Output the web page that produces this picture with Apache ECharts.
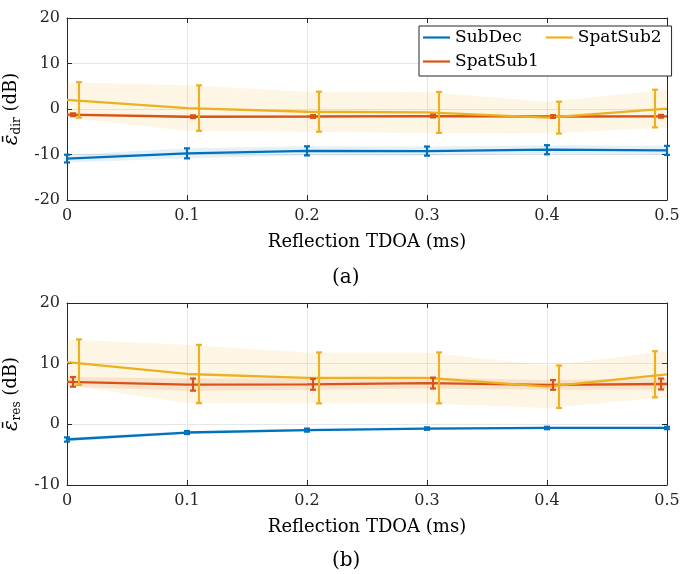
<!DOCTYPE html>
<html>
<head>
<meta charset="utf-8">
<script src="https://cdn.jsdelivr.net/npm/echarts@6/dist/echarts.min.js"></script>
<style>
html,body{margin:0;padding:0;background:#fff;}
#chart{width:694px;height:574px;}
</style>
</head>
<body>
<div id="chart"></div>
<script>
// ---- data ----
var tdoa = [0, 0.1, 0.2, 0.3, 0.4, 0.5];
var xTicks = ['0', '0.1', '0.2', '0.3', '0.4', '0.5'];
var seriesNames = ['SubDec', 'SpatSub1', 'SpatSub2'];
// error-bar x positions (slightly shifted per method)
var errXSubDec = [0, 0.1, 0.2, 0.3, 0.4, 0.5];
var errXSpatSub1 = [0.005, 0.105, 0.205, 0.305, 0.405, 0.495];
var errXSpatSub2 = [0.01, 0.11, 0.21, 0.31, 0.41, 0.49];

// (a) direct-path error
var subDecDir = [-10.9, -9.75, -9.2, -9.25, -8.95, -9.1];
var subDecDirStd = [0.85, 1.1, 1.0, 1.0, 1.0, 1.0];
var spatSub1Dir = [-1.25, -1.7, -1.65, -1.55, -1.65, -1.6];
var spatSub1DirStd = [0.3, 0.3, 0.3, 0.3, 0.3, 0.3];
var spatSub2Dir = [2.0, 0.2, -0.6, -0.75, -1.9, 0.1];
var spatSub2DirStd = [3.9, 5.0, 4.4, 4.5, 3.5, 4.15];

// (b) residual error
var subDecRes = [-2.5, -1.35, -0.95, -0.7, -0.6, -0.6];
var subDecResStd = [0.35, 0.25, 0.25, 0.2, 0.2, 0.2];
var spatSub1Res = [7.0, 6.55, 6.6, 6.8, 6.5, 6.65];
var spatSub1ResStd = [0.8, 1.0, 0.9, 0.9, 0.8, 0.9];
var spatSub2Res = [10.25, 8.3, 7.65, 7.65, 6.2, 8.25];
var spatSub2ResStd = [3.75, 4.8, 4.2, 4.2, 3.5, 3.8];

// ---- styles ----
var FONT = 'DejaVu Serif';
var AX = '#262626';
var GRIDC = '#e6e6e6';
var C = {SubDec: '#0072BD', SpatSub1: '#D95319', SpatSub2: '#EDB120'};

var chart = echarts.init(document.getElementById('chart'), null, {renderer: 'canvas'});

function bandSeries(ax, xs, mean, std, color, op) {
  return {
    type: 'custom', xAxisIndex: ax * 2, yAxisIndex: ax * 2, silent: true, z: 1,
    data: [[xs[0], mean[0]]],
    renderItem: function (p, api) {
      var pts = [];
      for (var i = 0; i < xs.length; i++) pts.push(api.coord([xs[i], mean[i] + std[i]]));
      for (var j = xs.length - 1; j >= 0; j--) pts.push(api.coord([xs[j], mean[j] - std[j]]));
      return {type: 'polygon', shape: {points: pts}, style: {fill: color, opacity: op}};
    }
  };
}
function lineSeries(ax, name, mean) {
  return {
    type: 'line', name: name, xAxisIndex: ax * 2, yAxisIndex: ax * 2, z: 3,
    data: tdoa.map(function (x, i) { return [x, mean[i]]; }),
    symbol: 'none', lineStyle: {width: 2.3, color: C[name]}, itemStyle: {color: C[name]},
    animation: false
  };
}
function errSeries(ax, name, xs, mean, std) {
  var col = C[name];
  return {
    type: 'custom', xAxisIndex: ax * 2, yAxisIndex: ax * 2, silent: true, z: 4,
    data: xs.map(function (x, i) { return [x, mean[i] - std[i], mean[i] + std[i]]; }),
    encode: {x: 0, y: [1, 2]},
    renderItem: function (p, api) {
      var x = api.value(0);
      var lo = api.coord([x, api.value(1)]);
      var hi = api.coord([x, api.value(2)]);
      var w = 3;
      var st = {stroke: col, lineWidth: 2.2};
      return {type: 'group', children: [
        {type: 'line', shape: {x1: lo[0], y1: lo[1], x2: hi[0], y2: hi[1]}, style: st},
        {type: 'line', shape: {x1: lo[0] - w, y1: lo[1], x2: lo[0] + w, y2: lo[1]}, style: st},
        {type: 'line', shape: {x1: hi[0] - w, y1: hi[1], x2: hi[0] + w, y2: hi[1]}, style: st}
      ]};
    }
  };
}

function xAxes(gi) {
  return [{
    type: 'value', gridIndex: gi, min: 0, max: 0.5, interval: 0.1, position: 'bottom',
    axisLine: {show: true, onZero: false, lineStyle: {color: AX, width: 1}},
    axisTick: {show: true, inside: true, length: 5, lineStyle: {color: AX}},
    axisLabel: {fontFamily: FONT, fontSize: 16, color: AX, margin: 8,
      formatter: function (v) { var k = Math.round(v * 10); return xTicks[k] !== undefined ? xTicks[k] : ''; }},
    splitLine: {show: true, lineStyle: {color: GRIDC, width: 1}},
    name: 'Reflection TDOA (ms)', nameLocation: 'middle', nameGap: 33,
    nameTextStyle: {fontFamily: FONT, fontSize: 18, color: '#000'}
  }, {
    type: 'value', gridIndex: gi, min: 0, max: 0.5, interval: 0.1, position: 'top',
    axisLine: {show: true, onZero: false, lineStyle: {color: AX, width: 1}},
    axisTick: {show: true, inside: true, length: 5, lineStyle: {color: AX}},
    axisLabel: {show: false}, splitLine: {show: false}
  }];
}
function yAxes(gi, min, max, sub) {
  return [{
    type: 'value', gridIndex: gi, min: min, max: max, interval: 10, position: 'left',
    axisLine: {show: true, onZero: false, lineStyle: {color: AX, width: 1}},
    axisTick: {show: true, inside: true, length: 5, lineStyle: {color: AX}},
    axisLabel: {fontFamily: FONT, fontSize: 16, color: AX, margin: 7},
    splitLine: {show: true, lineStyle: {color: GRIDC, width: 1}},
    name: '{e|ε̄}{s|' + sub + '} {n|(dB)}', nameLocation: 'middle', nameGap: 36,
    nameTextStyle: {fontFamily: FONT, fontSize: 18, color: '#000',
      rich: {
        e: {fontFamily: FONT, fontSize: 20, fontStyle: 'italic', color: '#000', lineHeight: 24},
        s: {fontFamily: FONT, fontSize: 12, color: '#000', verticalAlign: 'bottom', padding: [8, 0, 0, 0], lineHeight: 14},
        n: {fontFamily: FONT, fontSize: 18, color: '#000', lineHeight: 24}
      }}
  }, {
    type: 'value', gridIndex: gi, min: min, max: max, interval: 10, position: 'right',
    axisLine: {show: true, onZero: false, lineStyle: {color: AX, width: 1}},
    axisTick: {show: true, inside: true, length: 5, lineStyle: {color: AX}},
    axisLabel: {show: false}, splitLine: {show: false}
  }];
}

var series = [
  bandSeries(0, tdoa, spatSub2Dir, spatSub2DirStd, C.SpatSub2, 0.12),
  bandSeries(0, tdoa, spatSub1Dir, spatSub1DirStd, C.SpatSub1, 0.12),
  bandSeries(0, tdoa, subDecDir, subDecDirStd, C.SubDec, 0.1),
  lineSeries(0, 'SubDec', subDecDir),
  lineSeries(0, 'SpatSub1', spatSub1Dir),
  lineSeries(0, 'SpatSub2', spatSub2Dir),
  errSeries(0, 'SubDec', errXSubDec, subDecDir, subDecDirStd),
  errSeries(0, 'SpatSub1', errXSpatSub1, spatSub1Dir, spatSub1DirStd),
  errSeries(0, 'SpatSub2', errXSpatSub2, spatSub2Dir, spatSub2DirStd),

  bandSeries(1, tdoa, spatSub2Res, spatSub2ResStd, C.SpatSub2, 0.12),
  bandSeries(1, tdoa, spatSub1Res, spatSub1ResStd, C.SpatSub1, 0.12),
  bandSeries(1, tdoa, subDecRes, subDecResStd, C.SubDec, 0.1),
  lineSeries(1, 'SubDec', subDecRes),
  lineSeries(1, 'SpatSub1', spatSub1Res),
  lineSeries(1, 'SpatSub2', spatSub2Res),
  errSeries(1, 'SubDec', errXSubDec, subDecRes, subDecResStd),
  errSeries(1, 'SpatSub1', errXSpatSub1, spatSub1Res, spatSub1ResStd),
  errSeries(1, 'SpatSub2', errXSpatSub2, spatSub2Res, spatSub2ResStd)
];

var option = {
  animation: false,
  backgroundColor: '#fff',
  grid: [
    {left: 67, top: 18, width: 600, height: 182, containLabel: false, outerBoundsMode: 'none'},
    {left: 67, top: 303, width: 600, height: 182, containLabel: false, outerBoundsMode: 'none'}
  ],
  xAxis: xAxes(0).concat(xAxes(1)),
  yAxis: yAxes(0, -20, 20, 'dir').concat(yAxes(1, -10, 20, 'res')),
  legend: {
    data: seriesNames, orient: 'vertical', left: 419, top: 26, height: 50,
    itemWidth: 27, itemHeight: 2.2, itemGap: 7, icon: 'rect',
    padding: [3, 10, 6, 4], borderColor: AX, borderWidth: 1, backgroundColor: '#fff',
    textStyle: {fontFamily: FONT, fontSize: 17, color: '#000'},
    selectedMode: false, z: 10
  },
  graphic: [
    {type: 'text', left: 332, top: 268, style: {text: '(a)', font: '20px "DejaVu Serif"', fill: '#000'}},
    {type: 'text', left: 332, top: 551, style: {text: '(b)', font: '20px "DejaVu Serif"', fill: '#000'}}
  ],
  series: series
};
chart.setOption(option);
</script>
</body>
</html>
